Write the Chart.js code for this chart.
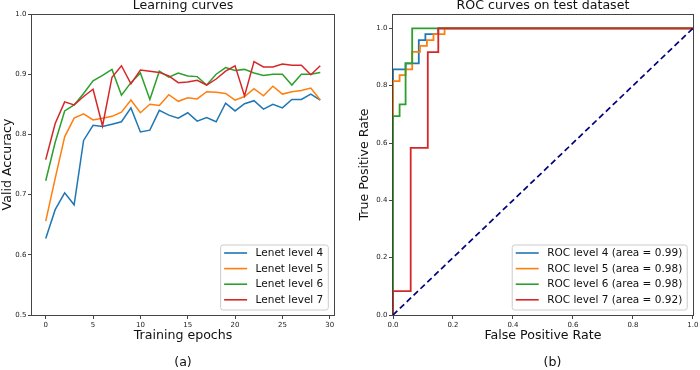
<!DOCTYPE html>
<html><head><meta charset="utf-8">
<script src="https://cdn.jsdelivr.net/npm/chart.js@4/dist/chart.umd.min.js"></script>
<style>
html,body{margin:0;padding:0;background:#fff;}
#wrap{position:relative;width:700px;height:370px;overflow:hidden;background:#fff;}
canvas{position:absolute;top:0;}
#c1{left:0;} #c2{left:350px;}
</style></head><body>
<div id="wrap"><canvas id="c1" width="350" height="370"></canvas><canvas id="c2" width="350" height="370"></canvas></div>
<script>
// ---------- data ----------
const epochs = [0,1,2,3,4,5,6,7,8,9,10,11,12,13,14,15,16,17,18,19,20,21,22,23,24,25,26,27,28,29];
const lenet4 = [0.627,0.675,0.703,0.683,0.790,0.815,0.813,0.817,0.821,0.844,0.804,0.807,0.840,0.832,0.827,0.836,0.822,0.828,0.821,0.852,0.839,0.851,0.856,0.842,0.850,0.844,0.858,0.858,0.867,0.857];
const lenet5 = [0.656,0.727,0.796,0.827,0.834,0.824,0.827,0.830,0.837,0.857,0.836,0.850,0.848,0.866,0.855,0.861,0.859,0.871,0.870,0.868,0.857,0.863,0.876,0.864,0.880,0.867,0.871,0.873,0.877,0.857];
const lenet6 = [0.723,0.787,0.839,0.849,0.868,0.889,0.898,0.908,0.865,0.886,0.902,0.858,0.905,0.895,0.902,0.897,0.896,0.882,0.900,0.911,0.906,0.908,0.902,0.898,0.900,0.900,0.882,0.900,0.900,0.903];
const lenet7 = [0.758,0.818,0.854,0.849,0.863,0.875,0.814,0.895,0.914,0.884,0.907,0.905,0.903,0.897,0.886,0.887,0.890,0.882,0.892,0.905,0.914,0.864,0.921,0.912,0.912,0.917,0.915,0.915,0.899,0.914];
const lenetLabels = ['Lenet level 4','Lenet level 5','Lenet level 6','Lenet level 7'];

const fpr4 = [0,0,0.042,0.042,0.086,0.086,0.108,0.108,0.151,0.151,1];
const tpr4 = [0,0.857,0.857,0.878,0.878,0.959,0.959,0.980,0.980,1,1];
const fpr5 = [0,0,0.022,0.022,0.042,0.042,0.064,0.064,0.090,0.090,0.113,0.113,0.135,0.135,0.172,0.172,1];
const tpr5 = [0,0.816,0.816,0.837,0.837,0.857,0.857,0.918,0.918,0.939,0.939,0.959,0.959,0.980,0.980,1,1];
const fpr6 = [0,0,0.022,0.022,0.042,0.042,0.064,0.064,1];
const tpr6 = [0,0.694,0.694,0.735,0.735,0.878,0.878,1,1];
const fpr7 = [0,0,0.059,0.059,0.116,0.116,0.151,0.151,1];
const tpr7 = [0,0.083,0.083,0.583,0.583,0.917,0.917,1,1];
const chanceFpr = [0,1];
const chanceTpr = [0,1];
const rocLabels = ['ROC level 4 (area = 0.99)','ROC level 5 (area = 0.98)','ROC level 6 (area = 0.98)','ROC level 7 (area = 0.92)'];

const epochTicks = [0,5,10,15,20,25,30];
const accTicks = [0.5,0.6,0.7,0.8,0.9,1.0];
const rocTicks = [0,0.2,0.4,0.6,0.8,1.0];

const seriesColors = ['#1f77b4','#ff7f0e','#2ca02c','#d62728'];

// ---------- helpers ----------
Chart.defaults.font.family = '"DejaVu Sans", sans-serif';
Chart.defaults.color = '#222';

const framePlugin = {
  id: 'frame',
  afterDatasetsDraw(chart) {
    const {ctx, chartArea: a} = chart;
    ctx.save();
    ctx.strokeStyle = '#444';
    ctx.lineWidth = 1;
    const l = Math.round(a.left) - 0.5, t = Math.round(a.top) + 0.5;
    const r = Math.round(a.right) + 0.5, b = Math.round(a.bottom) + 0.5;
    ctx.strokeRect(l, t, r - l, b - t);
    ctx.restore();
  }
};

const boxLegend = {
  id: 'boxLegend',
  afterDraw(chart, args, opts) {
    const {ctx, chartArea: a} = chart;
    const items = chart.data.datasets.filter(d => d.inLegend);
    ctx.save();
    ctx.font = opts.fontSize + 'px "DejaVu Sans", sans-serif';
    const textW = Math.max(...items.map(d => ctx.measureText(d.label).width));
    const rowH = 15.6;
    const w = 35 + textW + 5;
    const h = 65;
    const x = a.right - 5.7 - w;
    const y = a.bottom - 5 - h;
    ctx.beginPath();
    ctx.roundRect(x, y, w, h, 2.5);
    ctx.fillStyle = 'rgba(255,255,255,0.8)';
    ctx.fill();
    ctx.strokeStyle = '#cccccc';
    ctx.lineWidth = 1;
    ctx.stroke();
    ctx.textBaseline = 'middle';
    ctx.textAlign = 'left';
    items.forEach((d, i) => {
      const cy = y + 8 + i * rowH;
      ctx.beginPath();
      ctx.moveTo(x + 3.5, cy);
      ctx.lineTo(x + 26.5, cy);
      ctx.strokeStyle = d.borderColor;
      ctx.lineWidth = 1.6;
      ctx.stroke();
      ctx.fillStyle = '#111';
      ctx.fillText(d.label, x + 35, cy + 0.5);
    });
    ctx.restore();
  }
};

const shiftSubtitle = {
  id: 'shiftSubtitle',
  afterLayout(chart, args, opts) {
    if (!opts.dx) return;
    chart.boxes.forEach(b => {
      if (b.options && b.options.position === 'bottom' && b.options.text === chart.options.plugins.subtitle.text && typeof b.options.text === 'string' && !b.axis) {
        b.left += opts.dx; b.right += opts.dx;
      }
    });
  }
};

function makeAxis(min, max, tickVals, fmt, title, titlePad, size, isX) {
  return {
    type: 'linear', min, max,
    afterBuildTicks: s => { s.ticks = tickVals.map(v => ({value: v})); },
    afterFit: s => { if (isX) s.height = size; else s.width = size; },
    grid: {display: true, drawOnChartArea: false, drawTicks: true, tickLength: 4, tickColor: '#444', tickWidth: 1},
    border: {display: false},
    ticks: {font: {size: 7}, padding: 1.5, color: '#222', maxRotation: 0, autoSkip: false, callback: v => fmt(v)},
    title: {display: true, text: title, font: {size: 12.6, lineHeight: 1.2}, color: '#111', padding: titlePad}
  };
}

function commonPlugins(titleText, subText, dx) {
  return {
    legend: {display: false},
    tooltip: {enabled: false},
    title: {display: true, text: titleText, fullSize: false, font: {size: 12.6, weight: 'normal', lineHeight: 0.9}, color: '#111', padding: {top: 0, bottom: 2.66}},
    subtitle: {display: true, text: subText, position: 'bottom', fullSize: false, font: {size: 12.6, weight: 'normal', lineHeight: 1.2}, color: '#111', padding: {top: 0, bottom: 0}},
    boxLegend: {fontSize: 10.5},
    shiftSubtitle: {dx: dx}
  };
}

// ---------- chart (a) ----------
const lenetSeries = [lenet4, lenet5, lenet6, lenet7];
new Chart(document.getElementById('c1'), {
  type: 'line',
  data: {
    labels: epochs,
    datasets: lenetSeries.map((s, i) => ({
      label: lenetLabels[i], data: s, inLegend: true,
      borderColor: seriesColors[i], backgroundColor: seriesColors[i],
      borderWidth: 1.5, pointRadius: 0, tension: 0, fill: false, order: 3 - i
    }))
  },
  options: {
    responsive: false, animation: false, devicePixelRatio: 1,
    layout: {padding: {left: 0, right: 16, top: 0, bottom: 0}},
    scales: {
      x: makeAxis(-1.45, 30.45, epochTicks, v => String(v), 'Training epochs', {top: 0, bottom: 11.6}, 39.88, true),
      y: makeAxis(0.5, 1.0, accTicks, v => v.toFixed(1), 'Valid Accuracy', {top: 0.5, bottom: 0}, 32, false)
    },
    plugins: commonPlugins('Learning curves', '(a)', 0)
  },
  plugins: [framePlugin, boxLegend, shiftSubtitle]
});

// ---------- chart (b) ----------
const rocF = [fpr4, fpr5, fpr6, fpr7];
const rocT = [tpr4, tpr5, tpr6, tpr7];
const rocSets = rocF.map((f, i) => ({
  label: rocLabels[i], inLegend: true,
  data: f.map((x, j) => ({x: x, y: rocT[i][j]})),
  borderColor: seriesColors[i], backgroundColor: seriesColors[i],
  borderWidth: 1.8, pointRadius: 0, tension: 0, fill: false, order: 3 - i
}));
rocSets.push({
  label: 'chance', inLegend: false,
  data: chanceFpr.map((x, j) => ({x: x, y: chanceTpr[j]})),
  borderColor: '#000080', borderWidth: 1.7, borderDash: [6, 3.5],
  pointRadius: 0, tension: 0, fill: false, order: -1
});
new Chart(document.getElementById('c2'), {
  type: 'line',
  data: {datasets: rocSets},
  options: {
    responsive: false, animation: false, devicePixelRatio: 1,
    layout: {padding: {left: 0, right: 6, top: 0, bottom: 0}},
    scales: {
      x: makeAxis(0, 1, rocTicks, v => v.toFixed(1), 'False Positive Rate', {top: 0, bottom: 11.6}, 39.88, true),
      y: makeAxis(0, 1.05, rocTicks, v => v.toFixed(1), 'True Positive Rate', {top: 7.4, bottom: 0}, 43, false)
    },
    plugins: commonPlugins('ROC curves on test dataset', '(b)', 9.5)
  },
  plugins: [framePlugin, boxLegend, shiftSubtitle]
});
</script>
</body></html>
